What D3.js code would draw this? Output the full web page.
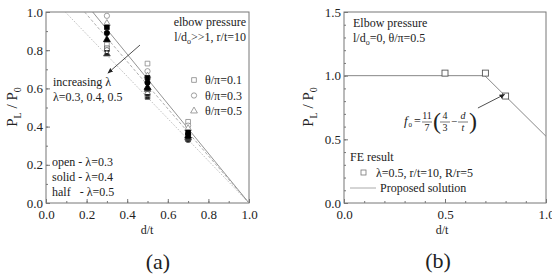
<!DOCTYPE html>
<meta charset="UTF-8">
<title>Limit pressure vs d/t</title>
<style>
  body { margin: 0; background: #fff; }
  svg { display: block; font-family: "Liberation Serif", "Times New Roman", serif; }
  svg text { font-family: "Liberation Serif", "Times New Roman", serif; }
</style>
<script src="https://d3js.org/d3.v7.min.js"></script>
<body>
<script>
  // ---- panel (a) data ----
  var dA = [0.3, 0.5, 0.7];
  var thetaLabels = ["θ/π=0.1", "θ/π=0.3", "θ/π=0.5"];
  var thetaShapes = ["square", "circle", "triangle"];
  // P_L/P_0 per lambda, per theta (sq, circ, tri), per d/t
  var open03 = [[0.83, 0.73, 0.425], [0.98, 0.69, 0.405], [0.94, 0.665, 0.39]];
  var solid04 = [[0.92, 0.655, 0.37], [0.89, 0.63, 0.36], [0.855, 0.605, 0.35]];
  var half05 = [[0.81, 0.555, 0.335], [0.80, 0.57, 0.33], [0.78, 0.595, 0.34]];
  // proposed lines: d/t where P_L/P_0 = 1, each ends at (1, 0)
  var lineStart = [0.23, 0.19, 0.095];
  var lineDash = ["none", "3,2", "1,1.5"];
  var ticksA = [0, 0.2, 0.4, 0.6, 0.8, 1.0];

  // ---- panel (b) data ----
  var dB = [0.5, 0.7, 0.8];
  var feB = [1.02, 1.02, 0.84];
  var solD = [0, 0.697, 1.0];
  var solP = [1.0, 1.0, 0.524];
  var ticksBx = [0, 0.5, 1.0];
  var ticksBy = [0, 0.5, 1.0, 1.5];

  var svg = d3.select("body").append("svg").attr("width", 552).attr("height", 277);

  var defs = svg.append("defs");
  var grad = defs.append("linearGradient").attr("id", "halfFill")
    .attr("x1", 0).attr("y1", 0).attr("x2", 0).attr("y2", 1);
  grad.append("stop").attr("offset", "50%").attr("stop-color", "#fff");
  grad.append("stop").attr("offset", "50%").attr("stop-color", "#222");

  var xa = d3.scaleLinear([0, 1], [46, 249]);
  var ya = d3.scaleLinear([0, 1], [203, 12]);
  var xb = d3.scaleLinear([0, 1], [344, 546]);
  var yb = d3.scaleLinear([0, 1.5], [203, 12]);

  var axisColor = "#777";
  var textColor = "#222";

  function drawAxes(x, y, xMajor, yMajor, xMinor, yMinor, fmt) {
    var g = svg.append("g");
    g.append("g").attr("transform", "translate(0," + y.range()[0] + ")")
      .call(d3.axisBottom(x).tickValues(xMinor).tickSize(-2).tickFormat(""));
    g.append("g").attr("transform", "translate(0," + y.range()[0] + ")")
      .call(d3.axisBottom(x).tickValues(xMajor).tickSize(-4).tickPadding(7).tickFormat(fmt));
    g.append("g").attr("transform", "translate(" + x.range()[0] + ",0)")
      .call(d3.axisLeft(y).tickValues(yMinor).tickSize(-2).tickFormat(""));
    g.append("g").attr("transform", "translate(" + x.range()[0] + ",0)")
      .call(d3.axisLeft(y).tickValues(yMajor).tickSize(-4).tickPadding(3).tickFormat(fmt));
    g.selectAll(".domain").remove();
    g.selectAll("g").attr("font-family", null).attr("font-size", null);
    g.selectAll("line").attr("stroke", axisColor);
    g.selectAll("text").attr("font-size", 13).attr("fill", textColor);
    g.append("rect")
      .attr("x", x.range()[0]).attr("y", y.range()[1])
      .attr("width", x.range()[1] - x.range()[0]).attr("height", y.range()[0] - y.range()[1])
      .attr("fill", "none").attr("stroke", axisColor).attr("stroke-width", 1);
  }

  var fmt1 = d3.format(".1f");
  drawAxes(xa, ya, ticksA, ticksA, d3.range(0, 1.001, 0.1), d3.range(0, 1.001, 0.1), fmt1);
  drawAxes(xb, yb, ticksBx, ticksBy, d3.range(0, 1.001, 0.1), d3.range(0, 1.501, 0.1), fmt1);

  function yTitle(cx, cy) {
    var t = svg.append("text").attr("transform", "translate(" + cx + "," + cy + ") rotate(-90)")
      .attr("text-anchor", "middle").attr("font-size", 15).attr("fill", textColor);
    t.append("tspan").text("P");
    t.append("tspan").attr("font-size", 10).attr("dy", 4).text("L");
    t.append("tspan").attr("dy", -4).text(" / P");
    t.append("tspan").attr("font-size", 10).attr("dy", 4).text("0");
  }
  yTitle(17, 107);
  yTitle(313, 107);

  function label(x, y, txt, size, anchor) {
    return svg.append("text").attr("x", x).attr("y", y).attr("font-size", size || 12)
      .attr("text-anchor", anchor || "start").attr("fill", textColor).text(txt);
  }
  label(147, 234, "d/t", 12, "middle");
  label(442, 234, "d/t", 12, "middle");
  label(158, 269, "(a)", 22, "middle");
  label(438, 268, "(b)", 22, "middle");

  // ---- panel (a) marks ----
  var lineGen = d3.line().x(function(p) { return xa(p[0]); }).y(function(p) { return ya(p[1]); });
  var gA = svg.append("g");
  lineStart.forEach(function(d0, i) {
    gA.append("path").attr("d", lineGen([[d0, 1], [1, 0]]))
      .attr("fill", "none").attr("stroke", i === 0 ? "#777" : "#999")
      .attr("stroke-width", 0.8).attr("stroke-dasharray", lineDash[i]);
  });

  var symType = { square: d3.symbolSquare, circle: d3.symbolCircle, triangle: d3.symbolTriangle };
  var symSize = { square: 22, circle: 22, triangle: 20 };
  function marker(g, x, y, shape, fill, stroke) {
    g.append("path").attr("d", d3.symbol(symType[shape], symSize[shape])())
      .attr("transform", "translate(" + x + "," + y + ")")
      .attr("fill", fill).attr("stroke", stroke).attr("stroke-width", 0.8);
  }
  var sets = [
    { vals: open03, fill: "#fff", stroke: "#888" },
    { vals: half05, fill: "url(#halfFill)", stroke: "#555" },
    { vals: solid04, fill: "#000", stroke: "#000" }
  ];
  sets.forEach(function(s) {
    s.vals.forEach(function(row, k) {
      row.forEach(function(v, j) {
        marker(gA, xa(dA[j]), ya(v), thetaShapes[k], s.fill, s.stroke);
      });
    });
  });

  label(246, 26, "elbow pressure", 12, "end");
  var t2 = label(246, 41, "", 12, "end");
  t2.append("tspan").text("l/d");
  t2.append("tspan").attr("font-size", 8).attr("dy", 3).text("o");
  t2.append("tspan").attr("dy", -3).text(">>1, r/t=10");

  thetaLabels.forEach(function(txt, k) {
    marker(gA, 194, 80 + k * 15.5, thetaShapes[k], "#fff", "#888");
    label(205, 84 + k * 15.5, txt, 12);
  });

  label(53, 86, "increasing λ", 12);
  label(53, 101, "λ=0.3, 0.4, 0.5", 12);
  label(52, 166, "open - λ=0.3", 12);
  label(52, 181, "solid - λ=0.4", 12);
  label(52, 196, "half   - λ=0.5", 12).attr("xml:space", "preserve");

  defs.append("marker").attr("id", "arrow").attr("viewBox", "0 0 10 10")
    .attr("refX", 9).attr("refY", 5).attr("markerWidth", 7).attr("markerHeight", 7)
    .attr("orient", "auto").append("path").attr("d", "M0,1 L10,5 L0,9 Z").attr("fill", "#222");

  var arrowA = [[0.463, 0.827], [0.305, 0.68]];
  gA.append("path").attr("d", lineGen(arrowA)).attr("stroke", "#222").attr("stroke-width", 0.8)
    .attr("marker-end", "url(#arrow)");

  // ---- panel (b) marks ----
  var gB = svg.append("g");
  var lineB = d3.line().x(function(p) { return xb(p[0]); }).y(function(p) { return yb(p[1]); });
  gB.append("path").attr("d", lineB(solD.map(function(d, i) { return [d, solP[i]]; })))
    .attr("fill", "none").attr("stroke", "#888").attr("stroke-width", 1);
  dB.forEach(function(d, i) {
    gB.append("rect").attr("x", xb(d) - 3).attr("y", yb(feB[i]) - 3).attr("width", 6).attr("height", 6)
      .attr("fill", "#fff").attr("stroke", "#555").attr("stroke-width", 0.9);
  });

  label(353, 27, "Elbow pressure", 12);
  var t3 = label(353, 42, "", 12);
  t3.append("tspan").text("l/d");
  t3.append("tspan").attr("font-size", 8).attr("dy", 3).text("o");
  t3.append("tspan").attr("dy", -3).text("=0, θ/π=0.5");

  // formula f0 = 11/7 (4/3 - d/t)
  var fy = 121;
  var fg = gB.append("g").attr("fill", textColor).attr("font-size", 10);
  fg.append("text").attr("x", 404).attr("y", fy + 4).attr("font-style", "italic").attr("font-size", 13).text("f");
  fg.append("text").attr("x", 408.5).attr("y", fy + 6).attr("font-size", 7).text("0");
  fg.append("text").attr("x", 414).attr("y", fy + 4).attr("font-size", 12).text("=");
  function frac(cx, num, den, italic) {
    fg.append("text").attr("x", cx).attr("y", fy - 2.5).attr("text-anchor", "middle")
      .attr("font-style", italic ? "italic" : "normal").text(num);
    fg.append("text").attr("x", cx).attr("y", fy + 10).attr("text-anchor", "middle")
      .attr("font-style", italic ? "italic" : "normal").text(den);
    fg.append("line").attr("x1", cx - 5).attr("x2", cx + 5).attr("y1", fy + 1).attr("y2", fy + 1)
      .attr("stroke", textColor).attr("stroke-width", 0.6);
  }
  frac(427, "11", "7", false);
  fg.append("text").attr("x", 433).attr("y", fy + 8).attr("font-size", 24).text("(");
  frac(445, "4", "3", false);
  fg.append("text").attr("x", 451).attr("y", fy + 4).attr("font-size", 11).text("−");
  frac(463, "d", "t", true);
  fg.append("text").attr("x", 469).attr("y", fy + 8).attr("font-size", 24).text(")");

  var arrowB = [[0.663, 0.746], [0.795, 0.853]];
  gB.append("path").attr("d", lineB(arrowB)).attr("stroke", "#222").attr("stroke-width", 0.8)
    .attr("marker-end", "url(#arrow)");

  label(350, 161, "FE result", 12);
  gB.append("rect").attr("x", 361).attr("y", 170).attr("width", 5).attr("height", 5)
    .attr("fill", "#fff").attr("stroke", "#777").attr("stroke-width", 0.8);
  label(376, 177, "λ=0.5, r/t=10, R/r=5", 12);
  gB.append("line").attr("x1", 350).attr("x2", 376).attr("y1", 188).attr("y2", 188)
    .attr("stroke", "#aaa").attr("stroke-width", 1);
  label(380, 192, "Proposed solution", 12);
</script>
</body>
